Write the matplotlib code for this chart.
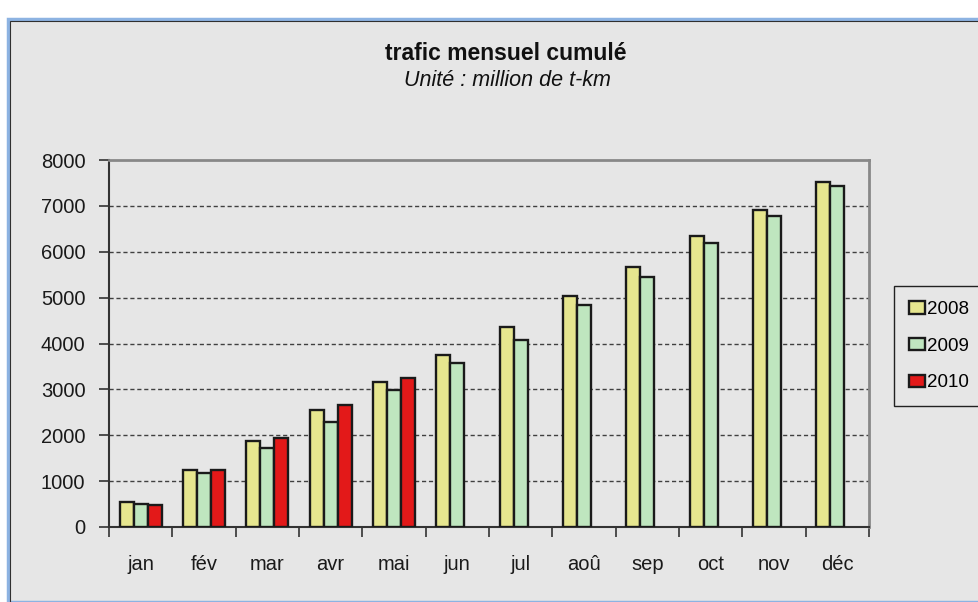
import matplotlib.pyplot as plt
import matplotlib.patches as mpatches
import numpy as np

plt.rcParams['font.family'] = ['Liberation Sans', 'DejaVu Sans']

# Data (million t-km, cumulative)
months = ["jan", "fév", "mar", "avr", "mai", "jun", "jul", "aoû", "sep", "oct", "nov", "déc"]
y2008 = [550, 1250, 1870, 2540, 3150, 3750, 4360, 5030, 5670, 6340, 6900, 7520]
y2009 = [500, 1170, 1730, 2290, 2980, 3580, 4080, 4840, 5450, 6200, 6790, 7440]
y2010 = [490, 1250, 1950, 2650, 3240]

W, H = 979, 602
fig = plt.figure(figsize=(W / 100, H / 100), dpi=100, facecolor="white")

# chart area background with the light blue frame
bg = mpatches.Rectangle((8 / W, 0), 1, 1 - 19 / H, transform=fig.transFigure,
                        facecolor="#e6e6e6", edgecolor="#8db3e2", lw=2.5, zorder=-2)
fig.patches.append(bg)
inner = mpatches.Rectangle((10 / W, -0.01), 1, 1 - 21 / H + 0.01, transform=fig.transFigure,
                           facecolor="none", edgecolor="#303030", lw=0.8, zorder=-1)
fig.patches.append(inner)

ax = fig.add_axes([109 / W, 1 - 527 / H, 760 / W, 367 / H])
ax.set_facecolor("#e6e6e6")

x = np.arange(len(months))
bw = 0.22
ax.bar(x - bw, y2008, bw, color="#e6e68f", edgecolor="#1a1a1a", lw=1.7, label="2008", zorder=3)
ax.bar(x, y2009, bw, color="#bfe6bf", edgecolor="#1a1a1a", lw=1.7, label="2009", zorder=3)
ax.bar(np.arange(len(y2010)) + bw, y2010, bw, color="#e31919", edgecolor="#1a1a1a", lw=1.7,
       label="2010", zorder=3)

ax.set_xlim(-0.5, 11.5)
ax.set_ylim(0, 8000)
ax.set_yticks(np.arange(0, 8001, 1000))
ax.set_xticks(x)
ax.set_xticklabels(months)
ax.set_xticks(np.arange(-0.5, 12, 1), minor=True)
ax.tick_params(axis="x", which="major", length=0, pad=20, labelsize=14.5, colors="#1a1a1a")
ax.tick_params(axis="x", which="minor", length=7, width=1.2, direction="out", color="#333333")
ax.tick_params(axis="y", length=7, width=1.2, direction="out", pad=10, labelsize=14.5,
               color="#333333", labelcolor="#1a1a1a")

for v in range(1000, 8000, 1000):
    ax.axhline(v, color="#404040", lw=1, ls=(0, (3, 2)), zorder=1)

for s in ["left", "bottom"]:
    ax.spines[s].set_color("#333333")
    ax.spines[s].set_linewidth(1.5)
for s in ["top", "right"]:
    ax.spines[s].set_color("#888888")
    ax.spines[s].set_linewidth(2)

fig.text(506 / W, 1 - 53 / H, "trafic mensuel cumulé", ha="center", va="center",
         fontsize=16.5, fontweight="bold", color="#111111")
fig.text(507 / W, 1 - 81 / H, "Unité : million de t-km", ha="center", va="center",
         fontsize=15.5, fontstyle="italic", color="#111111")

leg = fig.legend(loc="upper left", bbox_to_anchor=(894 / W, 1 - 286 / H), fontsize=13.5,
                 handlelength=0.85, handleheight=0.65, handletextpad=0.1, labelspacing=1.05,
                 borderpad=0.8, borderaxespad=0, fancybox=False, framealpha=1)
leg.get_frame().set_facecolor("#e6e6e6")
leg.get_frame().set_edgecolor("#222222")
leg.get_frame().set_linewidth(1)

fig.savefig("out.png", dpi=100)
